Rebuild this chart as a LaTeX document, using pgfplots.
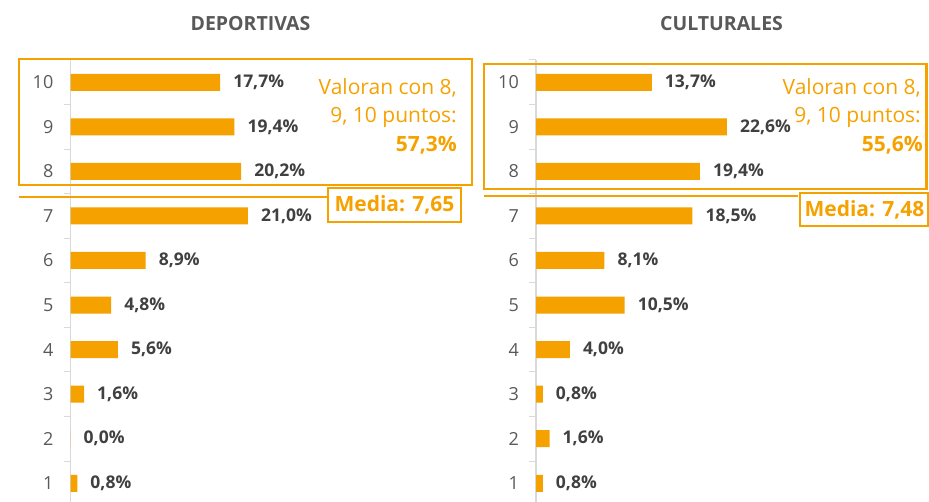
\documentclass[border=0pt]{standalone}
\usepackage{pgfplots}
\pgfplotsset{compat=1.18}
\usepackage{fontspec}
\setmainfont{Open Sans}
\definecolor{bar}{HTML}{F5A200}
\definecolor{lab}{HTML}{404040}
\definecolor{tick}{HTML}{595959}
\definecolor{axl}{HTML}{D9D9D9}
\pgfplotsset{
  mystyle/.style={
    scale only axis, width=400pt, height=442pt,
    xmin=0, xmax=47.34, ymin=0.58, ymax=10.5,
    axis x line=none, axis y line*=left,
    y axis line style={draw=axl, line width=1.3pt},
    xbar, bar width=17pt, bar shift=0pt,
    ytick={1,...,10}, major tick length=0pt,
    minor ytick={1.5,2.5,...,10.5}, minor tick length=7pt,
    tick align=outside,
    minor tick style={draw=axl, line width=1pt},
    yticklabel style={font=\fontsize{18}{20}\selectfont, text=tick, anchor=east, inner sep=0pt, xshift=-17pt, /pgf/number format/assume math mode=true},
    point meta=x,
    nodes near coords={\pgfmathprintnumber[fixed,fixed zerofill,precision=1,use comma,assume math mode=true]{\pgfplotspointmeta}\%},
    nodes near coords style={font=\fontsize{17.5}{20}\selectfont\bfseries, text=lab, anchor=west, inner sep=0pt, xshift=13pt},
    clip=false,
  }
}
\begin{document}
\begin{tikzpicture}[x=1pt,y=1pt]
\useasboundingbox (0,0) rectangle (929,502);
\begin{axis}[mystyle, at={(70.5pt,0pt)}, anchor=south west]
\addplot[fill=bar, draw=none] coordinates {(0.8,1) (0.0,2) (1.6,3) (5.6,4) (4.8,5) (8.9,6) (21.0,7) (20.2,8) (19.4,9) (17.7,10)};
\end{axis}
\begin{axis}[mystyle, at={(536pt,0pt)}, anchor=south west]
\addplot[fill=bar, draw=none] coordinates {(0.8,1) (1.6,2) (0.8,3) (4.0,4) (10.5,5) (8.1,6) (18.5,7) (19.4,8) (22.6,9) (13.7,10)};
\end{axis}
% titles
\node[font=\fontsize{19.5}{22}\selectfont\bfseries, text=tick] at (250.5,478) {DEPORTIVAS};
\node[font=\fontsize{19.5}{22}\selectfont\bfseries, text=tick] at (721.5,478) {CULTURALES};
% boxes
\draw[bar, line width=2.5pt] (19,443) rectangle (472,317);
\draw[bar, line width=2.5pt] (484,438) rectangle (926.5,313);
\draw[bar, line width=1.5pt] (19,305) -- (328,305);
\draw[bar, line width=1.5pt] (484,306) -- (798,306);
\draw[bar, line width=1.3pt] (328,314) rectangle (461,280);
\draw[bar, line width=1.3pt] (800,309) rectangle (928,276);
% texts
\begin{scope}[every node/.style={font=\fontsize{21}{24}\selectfont, text=bar, inner sep=0pt, anchor=base east}]
\node at (457,407) {Valoran con 8,};
\node at (457,379) {9, 10 puntos:};
\node[font=\fontsize{21}{24}\selectfont\bfseries] at (457,350) {57,3\%};
\node at (921,407) {Valoran con 8,};
\node at (921,379) {9, 10 puntos:};
\node[font=\fontsize{21}{24}\selectfont\bfseries] at (923,350) {55,6\%};
\end{scope}
\node[font=\fontsize{21}{24}\selectfont\bfseries, text=bar, inner sep=0pt] at (394.5,297) {Media: 7,65};
\node[font=\fontsize{21}{24}\selectfont\bfseries, text=bar, inner sep=0pt] at (864.5,292.5) {Media: 7,48};
\end{tikzpicture}
\end{document}
